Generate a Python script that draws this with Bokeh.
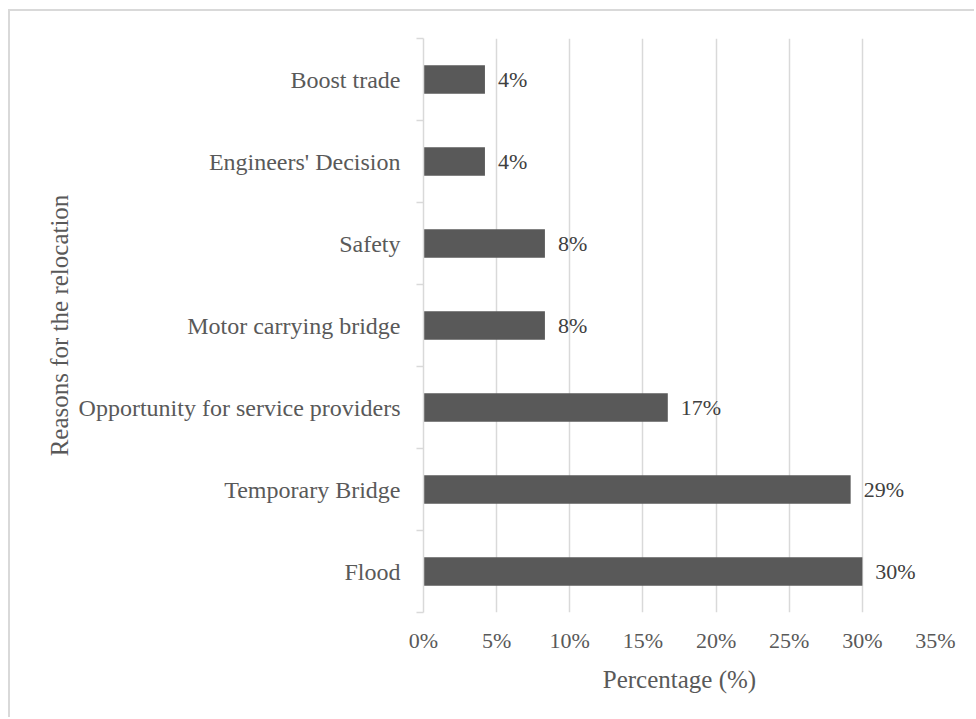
from bokeh.plotting import figure
from bokeh.models import Range1d, FixedTicker, NumeralTickFormatter, ColumnDataSource
from bokeh.core.properties import value
from bokeh.embed import file_html
from bokeh.resources import INLINE

# Data (bottom to top as drawn)
categories = ["Flood", "Temporary Bridge", "Opportunity for service providers",
              "Motor carrying bridge", "Safety", "Engineers' Decision", "Boost trade"]
percent_values = [0.30, 0.292, 0.167, 0.083, 0.083, 0.042, 0.042]
value_labels = ["30%", "29%", "17%", "8%", "8%", "4%", "4%"]
x_ticks = [0.0, 0.05, 0.10, 0.15, 0.20, 0.25, 0.30, 0.35]

positions = [i + 0.5 for i in range(len(categories))]
src = ColumnDataSource(dict(y=positions, v=percent_values, lab=value_labels, cat=categories))

FONT = "Liberation Serif"
TXT = "#595959"
GRID = "#d9d9d9"

p = figure(width=966, height=708, output_backend="svg", toolbar_location=None,
           x_range=Range1d(0, 0.35), y_range=Range1d(0, len(categories)),
           min_border_left=413, min_border_top=27, min_border_right=41, min_border_bottom=107)
p.styles = {"margin-left": "8px", "margin-top": "9px",
            "border-left": "2px solid #d9d9d9", "border-top": "2px solid #d9d9d9"}
p.outline_line_color = None
p.background_fill_color = "white"
p.border_fill_color = "white"

p.hbar(y="y", right="v", left=0, height=0.35, source=src, fill_color="#595959", line_color=None)
p.text(x="v", y="y", text="lab", source=src, x_offset=13, text_align="left",
       text_baseline="middle", text_font=value(FONT), text_font_size="22px", text_color="#404040")

# X axis
xa = p.xaxis[0]
xa.ticker = FixedTicker(ticks=x_ticks)
xa.formatter = NumeralTickFormatter(format="0%")
xa.axis_line_color = None
xa.major_tick_line_color = None
xa.minor_tick_line_color = None
xa.major_label_text_font = FONT
xa.major_label_text_font_size = "22px"
xa.major_label_text_color = TXT
xa.major_label_standoff = 9
xa.axis_label = "Percentage (%)"
xa.axis_label_text_font = FONT
xa.axis_label_text_font_size = "25px"
xa.axis_label_text_font_style = "normal"
xa.axis_label_text_color = TXT
xa.axis_label_standoff = 10

# Y axis
ya = p.yaxis[0]
ya.ticker = FixedTicker(ticks=positions, minor_ticks=list(range(len(categories) + 1)))
ya.major_label_overrides = {pos: c for pos, c in zip(positions, categories)}
ya.axis_line_color = GRID
ya.axis_line_width = 1.5
ya.major_tick_line_color = None
ya.minor_tick_line_color = GRID
ya.minor_tick_line_width = 1.5
ya.minor_tick_out = 7
ya.minor_tick_in = 0
ya.major_label_text_font = FONT
ya.major_label_text_font_size = "24px"
ya.major_label_text_color = TXT
ya.major_label_standoff = 16
ya.axis_label = "Reasons for the relocation"
ya.axis_label_text_font = FONT
ya.axis_label_text_font_size = "25px"
ya.axis_label_text_font_style = "normal"
ya.axis_label_text_color = TXT
ya.axis_label_standoff = 3

p.xgrid.grid_line_color = GRID
p.xgrid.grid_line_width = 1.5
p.xgrid.ticker = FixedTicker(ticks=x_ticks)
p.ygrid.grid_line_color = None

open("out.html", "w").write(file_html(p, INLINE))
